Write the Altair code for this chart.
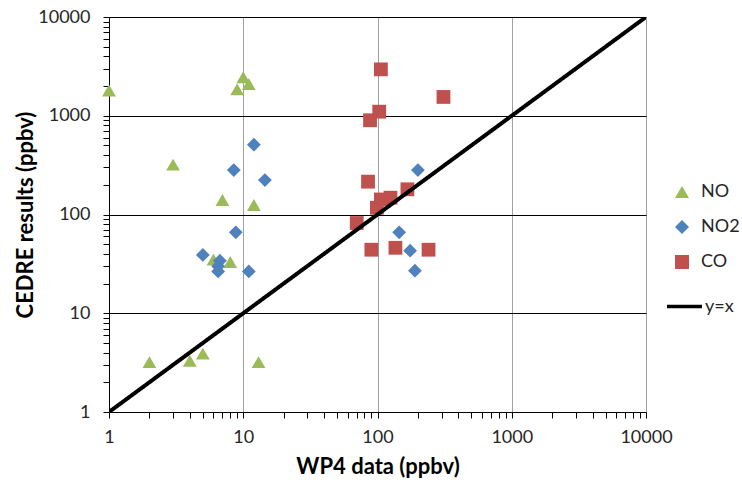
import altair as alt
import pandas as pd

# ---- data ----
no_x = [1, 10, 11, 9, 3, 7, 12, 6, 8, 2, 4, 5, 13]
no_y = [1800, 2450, 2100, 1850, 320, 140, 125, 35, 33, 3.2, 3.3, 3.9, 3.2]

no2_x = [12, 8.5, 14.5, 8.8, 5, 6.7, 6.5, 6.5, 11, 200, 145, 175, 190]
no2_y = [510, 282, 223, 66, 39, 34, 30, 26.5, 26.5, 282, 66, 43, 27]

co_x = [106, 310, 103, 88, 85, 167, 125, 106, 99, 70, 90, 136, 240]
co_y = [2950, 1550, 1100, 900, 215, 180, 148, 142, 117, 82, 44, 46, 44]

line_x = [1, 10000]
line_y = [1, 10000]

series_names = ["NO", "NO2", "CO"]
series_colors = ["#9BBB59", "#4F81BD", "#C0504D"]
series_shapes = ["triangle-up", "diamond", "square"]

major_ticks = [1, 10, 100, 1000, 10000]
minor_mult = [2, 3, 4, 5, 6, 7, 8, 9]
all_ticks = sorted(major_ticks + [m * d for d in major_ticks[:-1] for m in minor_mult])

rows = []
for name, xs, ys in zip(series_names, [no_x, no2_x, co_x], [no_y, no2_y, co_y]):
    for a, b in zip(xs, ys):
        rows.append({"series": name, "x": a, "y": b})
df = pd.DataFrame(rows)
line_df = pd.DataFrame({"x": line_x, "y": line_y, "name": ["y=x"] * len(line_x)})

FONT = "Lato"
major_test = "indexof([10, 100, 1000, 10000], datum.value) >= 0"
label_expr = ("indexof([1, 10, 100, 1000, 10000], datum.value) >= 0 ? "
              "format(datum.value, 'd') : ''")

W, H = 537, 395


def make_x():
    return alt.X(
        "x:Q",
        scale=alt.Scale(type="log", domain=[1, 10000], nice=False),
        axis=alt.Axis(
            values=all_ticks, labelExpr=label_expr, title="WP4 data (ppbv)",
            grid=True, gridColor="#A0A0A0", gridWidth=1,
            gridOpacity={"condition": {"test": major_test, "value": 1}, "value": 0},
            domainColor="black", domainWidth=1, tickColor="black", tickSize=6,
            tickWidth=1,
            labelFont=FONT, labelFontSize=18, labelColor="#262626", labelPadding=10,
            labelFlush=False, labelOverlap=False,
            titleFont=FONT, titleFontSize=22, titleFontWeight="bold", titleColor="black",
            titleX=W / 2, titleY=54, titleAlign="center", titleBaseline="middle",
        ),
    )


def make_y():
    return alt.Y(
        "y:Q",
        scale=alt.Scale(type="log", domain=[1, 10000], nice=False),
        axis=alt.Axis(
            values=all_ticks, labelExpr=label_expr, title="CEDRE results (ppbv)",
            grid=True, gridColor="black", gridWidth=1,
            gridOpacity={"condition": {"test": major_test, "value": 1}, "value": 0},
            domainColor="black", domainWidth=1, tickColor="black", tickSize=6,
            tickWidth=1,
            labelFont=FONT, labelFontSize=18, labelColor="#262626", labelPadding=13,
            labelFlush=False, labelOverlap=False,
            titleFont=FONT, titleFontSize=22, titleFontWeight="bold", titleColor="black",
            titleX=-84, titleY=H / 2, titleAngle=-90, titleAlign="center",
            titleBaseline="middle",
        ),
    )


sym_legend = alt.Legend(
    title=None, orient="none", legendX=564, legendY=166, padding=0,
    symbolSize=196, symbolStrokeWidth=0, labelFont=FONT, labelFontSize=18,
    labelColor="#262626", labelOffset=10, rowPadding=17,
)

points = alt.Chart(df).mark_point(filled=True, opacity=1, size=190, strokeWidth=0).encode(
    x=make_x(),
    y=make_y(),
    color=alt.Color("series:N", scale=alt.Scale(domain=series_names, range=series_colors),
                    legend=sym_legend),
    shape=alt.Shape("series:N", scale=alt.Scale(domain=series_names, range=series_shapes),
                    legend=sym_legend),
    order=alt.Order("idx:Q"),
).transform_window(idx="row_number()")

line = alt.Chart(line_df).mark_line(color="black", strokeWidth=4, clip=True).encode(
    x=make_x(),
    y=make_y(),
    strokeDash=alt.StrokeDash(
        "name:N", scale=alt.Scale(domain=["y=x"], range=[[1, 0]]),
        legend=alt.Legend(
            title=None, orient="none", legendX=556, legendY=270, padding=0,
            symbolType="stroke", symbolSize=1225, symbolStrokeColor="black",
            symbolStrokeWidth=3.5, labelFont=FONT, labelFontSize=18,
            labelColor="#262626", labelOffset=1,
        ),
    ),
)

chart = alt.layer(points, line).properties(
    width=W, height=H,
    padding={"left": 109, "top": 17, "right": 96, "bottom": 76},
    autosize=alt.AutoSizeParams(type="none"),
    background="white",
).configure_view(stroke=None)

chart.save("out.html", embed_options={"renderer": "svg", "actions": False})
